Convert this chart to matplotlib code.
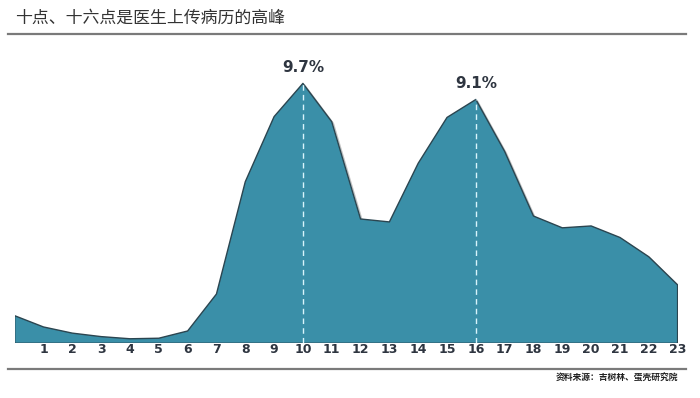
import matplotlib
matplotlib.use("Agg")
import matplotlib.pyplot as plt
import matplotlib.patheffects as pe
from matplotlib.lines import Line2D

plt.rcParams['font.family'] = ['Noto Sans CJK SC', 'DejaVu Sans']

hours = list(range(24))
share = [1.03, 0.61, 0.38, 0.25, 0.17, 0.19, 0.46, 1.84, 6.03, 8.46, 9.7, 8.27,
         4.64, 4.53, 6.72, 8.43, 9.1, 7.16, 4.75, 4.31, 4.38, 3.95, 3.23, 2.18]
tick_labels = [str(h) for h in range(1, 24)]
peak_hours = [10, 16]
peak_labels = ["9.7%", "9.1%"]
title = "十点、十六点是医生上传病历的高峰"
source = "资料来源：吉树林、蛋壳研究院"

num_family = "DejaVu Sans"

fig = plt.figure(figsize=(7, 3.98), dpi=100)
ax = fig.add_axes([0.021, 0.1374, 0.947, 0.7406])
ax.set_xlim(0, 23)
ax.set_ylim(0, 11)

fill_color = "#3a8fa8"
edge_color = "#2b4550"
poly = ax.fill_between(hours, share, 0, facecolor=fill_color, edgecolor=edge_color,
                       linewidth=1.0, zorder=2)
poly.set_path_effects([pe.SimpleLineShadow(offset=(1.2, -1.2), shadow_color="#888888", alpha=0.5),
                       pe.Normal()])

for h, lab in zip(peak_hours, peak_labels):
    v = share[h]
    ax.plot([h, h], [0, v], color="#d8f4fb", linestyle=(0, (4, 3)), linewidth=1.0, zorder=3)
    ax.text(h, v + 0.3, lab, ha="center", va="bottom", fontsize=11, fontweight="bold",
            color="#2e3540", family=num_family)

ax.set_xticks(range(1, 24))
ax.set_xticklabels(tick_labels, fontsize=9, fontweight="bold", color="#2e3540",
                   family=num_family)
ax.tick_params(axis="x", length=0, pad=-0.5)
ax.set_yticks([])
for s in ax.spines.values():
    s.set_visible(False)
ax.patch.set_alpha(0)

fig.text(15 / 700, 1 - 18 / 398, title, fontsize=12.2, color="#333333", ha="left", va="center")
fig.add_artist(Line2D([8 / 700, 686 / 700], [1 - 33.5 / 398, 1 - 33.5 / 398],
                      color="#7a7a7a", linewidth=1.6))
fig.add_artist(Line2D([8 / 700, 686 / 700], [1 - 368.5 / 398, 1 - 368.5 / 398],
                      color="#7a7a7a", linewidth=1.6))
fig.text(678 / 700, 1 - 378 / 398, source, fontsize=6.3, color="#222222", ha="right",
         va="center", fontweight="bold")

fig.savefig("out.png", dpi=100)
